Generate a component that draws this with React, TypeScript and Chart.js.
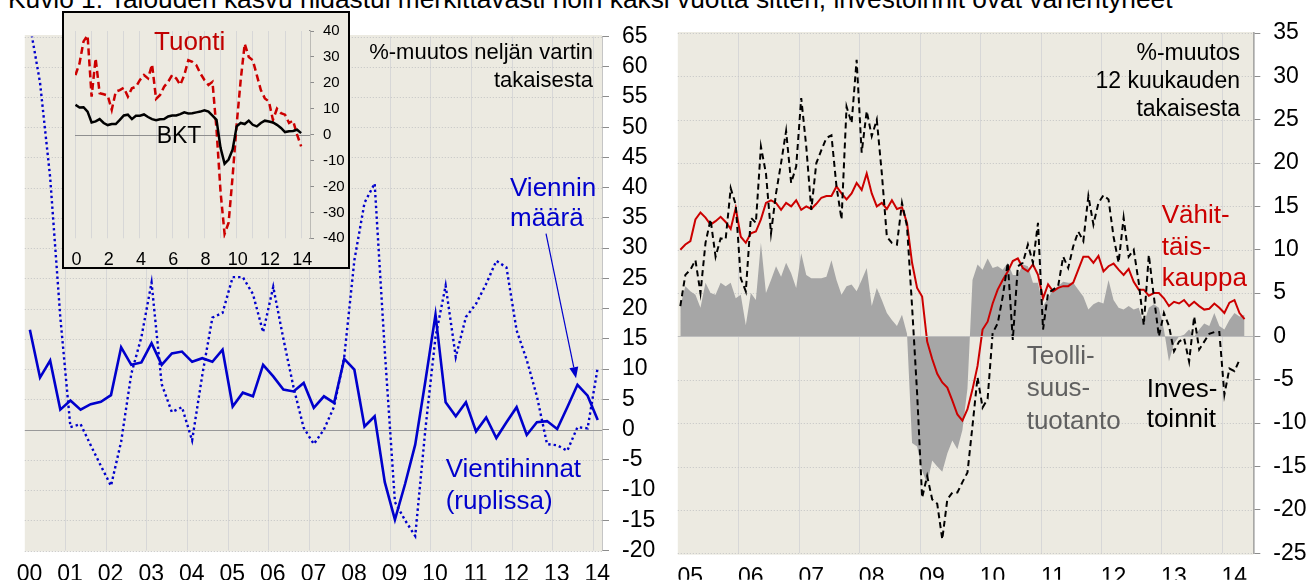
import React, { useEffect, useRef } from 'react';
import { Chart, registerables } from 'chart.js';

Chart.register(...registerables);

const FONT = '"Liberation Sans", Arial, Helvetica, sans-serif';
Chart.defaults.font.family = FONT;

// ---------- Left panel: quarterly, 2000Q1 .. 2014Q1 ----------
const leftYears = [2000, 2001, 2002, 2003, 2004, 2005, 2006, 2007, 2008, 2009, 2010, 2011, 2012, 2013, 2014];
const leftValueTicks = [-20, -15, -10, -5, 0, 5, 10, 15, 20, 25, 30, 35, 40, 45, 50, 55, 60, 65];
// Vientihinnat (ruplissa), % y/y
const exportPrices = [
  16.5, 8.6, 11.4, 3.3, 4.8, 3.3, 4.2, 4.6, 5.7, 13.6, 10.7, 11.1, 14.3, 10.7, 12.6, 12.9,
  11.2, 11.8, 11.2, 13.2, 3.8, 6.1, 5.5, 10.7, 8.8, 6.6, 6.3, 7.7, 3.6, 5.5, 4.4, 11.7,
  9.9, 0.5, 2.2, -8.7, -14.9, -9.0, -2.5, 8.0, 19.0, 4.5, 2.2, 4.5, -0.3, 2.0, -1.4, 1.2,
  3.7, -0.9, 1.2, 1.4, 0.1, 3.7, 7.4, 5.6, 1.6,
];
// Viennin määrä, % y/y
const exportVolume = [
  67, 57.4, 41.7, 18.6, 0.4, 0.9, -2.6, -6.0, -9.3, -2.0, 9.2, 15.3, 24.3, 7.5, 2.9, 3.7,
  -1.8, 9.0, 18.5, 19.3, 25.2, 25.2, 22.4, 16.1, 23.6, 15.0, 7.0, 0.3, -2.4, 0.0, 3.8, 12.0,
  28.0, 37.5, 40.7, 13.0, -12.0, -15.0, -17.6, 0.0, 15.3, 23.8, 12.0, 18.6, 20.8, 24.1, 27.9, 26.8,
  16.4, 11.5, 5.5, -2.4, -2.6, -3.5, 0.4, 0.2, 10.3,
];
// Inset: BKT and Tuonti, % y/y, years 0..14 (= 2000..2014)
const insetTicks = [0, 2, 4, 6, 8, 10, 12, 14];
const insetValueTicks = [-40, -30, -20, -10, 0, 10, 20, 30, 40];
const gdp = [
  11.5, 10.5, 10.6, 8.9, 4.7, 5.1, 6.0, 4.5, 3.7, 4.1, 4.1, 5.7, 7.4, 7.7, 6.0, 7.3,
  7.3, 7.8, 6.8, 6.0, 5.6, 5.9, 6.0, 7.0, 7.4, 7.4, 7.9, 8.6, 8.2, 8.3, 8.6, 8.9,
  9.4, 8.9, 7.3, 5.7, -5.1, -11.2, -9.6, -5.7, 3.2, 4.5, 4.1, 5.4, 3.8, 3.2, 4.5, 5.4,
  5.1, 4.7, 3.8, 2.6, 1.0, 1.3, 1.4, 1.9, 0.6,
];
const imports = [
  23, 27.5, 36, 38.3, 14.7, 29.4, 16, 15.6, 15.1, 9.6, 16.6, 17.2, 18.1, 14.7, 17.9, 18.5,
  21.1, 23, 21.7, 27.1, 13.8, 15.3, 18.5, 20.4, 23, 21.7, 19.2, 23, 28.7, 28.1, 26.8, 23.6,
  21.1, 19.2, 20.4, 2, -22, -38.3, -34, -16, 4, 21, 35.1, 30, 28.7, 23, 17.2, 14,
  12.8, 5.7, 10, 8.3, 7.7, 4.5, 5.4, 0, -4.5,
];

// ---------- Right panel: monthly, 2005-01 .. ----------
const rightYears = [2005, 2006, 2007, 2008, 2009, 2010, 2011, 2012, 2013, 2014];
const rightValueTicks = [-25, -20, -15, -10, -5, 0, 5, 10, 15, 20, 25, 30, 35];
// Vähittäiskauppa
const retail = [
  10.0, 10.6, 11.0, 13.5, 14.3, 13.7, 12.9, 13.3, 13.8, 13.2, 12.4, 14.8,
  11.5, 10.8, 11.9, 12.1, 13.5, 15.4, 15.7, 15.4, 14.6, 15.4, 15.0, 15.7,
  14.6, 15.0, 14.7, 15.3, 16.0, 16.2, 16.2, 17.3, 16.5, 15.8, 16.5, 17.7,
  16.9, 18.8, 16.5, 15.0, 15.4, 14.7, 15.7, 14.7, 14.9, 13.1, 8.5, 5.6,
  4.6, -0.6, -2.6, -4.3, -5.3, -5.9, -7.4, -9.0, -9.7, -8.4, -6.1, -3.4,
  0.8, 1.7, 3.8, 5.4, 6.5, 7.5, 8.7, 9.0, 7.9, 7.5, 8.3, 7.1,
  4.4, 6.0, 5.2, 5.6, 5.8, 5.8, 6.2, 7.7, 9.2, 9.2, 8.5, 9.3,
  7.5, 8.1, 8.4, 7.7, 7.1, 7.8, 6.3, 5.4, 5.4, 4.7, 5.0, 5.0,
  4.4, 3.5, 4.0, 3.8, 4.2, 3.5, 4.0, 3.5, 3.1, 3.2, 3.8, 3.3,
  2.7, 3.9, 4.2, 2.7, 2.0,
];
// Investoinnit
const investment = [
  3.5, 7.1, 7.7, 8.8, 5.0, 10.8, 13.5, 9.2, 11.3, 11.2, 17.1, 15.2,
  6.7, 5.2, 13.7, 13.1, 21.9, 18.8, 11.9, 16.5, 20.0, 23.7, 17.7, 19.6,
  27.5, 21.9, 14.6, 20.0, 21.5, 22.9, 23.2, 17.3, 13.5, 26.5, 24.6, 31.9,
  21.2, 26.0, 23.1, 25.0, 18.8, 11.5, 10.8, 10.6, 15.4, 12.7, 3.5, -6.5,
  -18.6, -16.1, -18.8, -19.3, -23.4, -18.8, -18.0, -18.0, -16.8, -15.7, -10.3, -4.7,
  -8.2, -7.2, 0.4, 1.5, 4.6, 8.5, -0.4, 8.1, 8.5, 10.6, 8.5, 13.1,
  0.8, 5.0, 5.4, 5.8, 9.2, 7.9, 10.4, 12.1, 11.0, 16.2, 12.9, 15.4,
  16.3, 15.8, 11.5, 8.5, 13.7, 9.2, 10.0, 6.2, 1.3, 9.4, 4.6, 0.0,
  2.7, 1.2, -1.7, -0.6, -0.2, -2.9, 2.3, -1.5, -0.6, 0.3, 0.5, 0.5,
  -6.7, -3.7, -4.0, -2.7,
];
// Teollisuustuotanto
const industry = [
  3.5, 5.8, 5.2, 4.8, 3.3, 6.2, 5.0, 4.8, 6.2, 5.8, 6.2, 4.4,
  4.8, 1.3, 5.0, 4.2, 10.8, 5.0, 6.5, 8.1, 6.9, 8.5, 7.3, 5.6,
  9.6, 7.1, 6.7, 6.7, 6.7, 6.9, 8.8, 6.5, 4.8, 5.8, 6.0, 5.2,
  6.5, 7.9, 3.5, 5.6, 4.2, 2.7, 1.9, 1.2, 2.5, 0.3, -12.3, -12.7,
  -15.5, -17.0, -14.3, -15.0, -15.6, -13.5, -12.0, -13.0, -10.8, -6.0, 6.5, 8.3,
  7.7, 9.0, 7.9, 8.1, 7.7, 8.5, 7.1, 7.1, 8.3, 8.1, 6.2, 6.2,
  3.5, 4.4, 5.4, 5.8, 6.3, 6.2, 6.2, 5.4, 4.6, 3.1, 3.7, 4.0,
  3.8, 6.5, 4.2, 3.3, 3.1, 3.5, 3.1, 3.3, 1.5, 3.3, 3.7, 3.3,
  0.8, -2.9, -0.8, 0.0, 0.2, 0.8, 0.0, 0.8, 1.5, 1.2, 2.7, 1.2,
  0.8, 1.9, 2.7, 2.3, 2.5,
];

// ---------- styles ----------
const BG = '#ECEAE1';
const BLUE = '#0000CC';
const RED = '#CC0000';
const AXIS = '#8C8C8C';

const quarterX = (i: number) => 2000.125 + 0.25 * i;
const insetX = (i: number) => 0.03 + 0.25 * i;
const monthX = (i: number) => 2005 + (i + 0.5) / 12;
const yy = (v: any) => {
  const n = Math.round(Number(v)) % 100;
  return n < 10 ? '0' + n : String(n);
};

const panelPlugin = {
  id: 'panel',
  beforeDatasetsDraw(chart: any, _a: any, o: any) {
    const { ctx, chartArea: a, scales } = chart;
    const xs = scales.x;
    const ys = scales.y;
    ctx.save();
    ctx.fillStyle = o.bg;
    ctx.fillRect(a.left, a.top - o.bgTop, a.right - a.left, a.bottom - a.top + o.bgTop + o.bgBottom);
    ctx.lineWidth = 1;
    ctx.strokeStyle = o.vGrid;
    for (let v = Math.ceil(xs.min + o.skipFirst); v <= xs.max + 1e-9; v += 1) {
      const px = Math.round(xs.getPixelForValue(v)) + 0.5;
      ctx.beginPath();
      ctx.moveTo(px, a.top);
      ctx.lineTo(px, a.bottom);
      ctx.stroke();
    }
    if (o.hGrid) {
      ctx.strokeStyle = o.hGrid;
      ctx.setLineDash([1, 2]);
      ys.ticks.forEach((t: any) => {
        if (t.value === 0) return;
        const py = Math.round(ys.getPixelForValue(t.value)) + 0.5;
        ctx.beginPath();
        ctx.moveTo(a.left, py);
        ctx.lineTo(a.right, py);
        ctx.stroke();
      });
      ctx.setLineDash([]);
    }
    if (!o.zeroOnTop) {
      const pz = Math.round(ys.getPixelForValue(0)) + 0.5;
      ctx.strokeStyle = o.zero;
      ctx.beginPath();
      ctx.moveTo(a.left, pz);
      ctx.lineTo(a.right, pz);
      ctx.stroke();
    }
    ctx.restore();
  },
  afterDatasetsDraw(chart: any, _a: any, o: any) {
    const { ctx, chartArea: a, scales } = chart;
    const xs = scales.x;
    const ys = scales.y;
    ctx.save();
    if (o.zeroOnTop) {
      const pz = Math.round(ys.getPixelForValue(0)) + 0.5;
      ctx.strokeStyle = o.zero;
      ctx.lineWidth = 1;
      ctx.beginPath();
      ctx.moveTo(a.left, pz);
      ctx.lineTo(a.right, pz);
      ctx.stroke();
    }
    if (o.arrow) {
      const [x1, y1, x2, y2] = o.arrow;
      const X1 = xs.getPixelForValue(x1), Y1 = ys.getPixelForValue(y1);
      const X2 = xs.getPixelForValue(x2), Y2 = ys.getPixelForValue(y2);
      const ang = Math.atan2(Y2 - Y1, X2 - X1);
      const L = 11, W = 4.5;
      const bx = X2 - L * Math.cos(ang), by = Y2 - L * Math.sin(ang);
      ctx.strokeStyle = o.arrowColor;
      ctx.fillStyle = o.arrowColor;
      ctx.lineWidth = 1.2;
      ctx.beginPath();
      ctx.moveTo(X1, Y1);
      ctx.lineTo(bx, by);
      ctx.stroke();
      ctx.beginPath();
      ctx.moveTo(X2, Y2);
      ctx.lineTo(bx + W * Math.sin(ang), by - W * Math.cos(ang));
      ctx.lineTo(bx - W * Math.sin(ang), by + W * Math.cos(ang));
      ctx.closePath();
      ctx.fill();
    }
    ctx.restore();
  },
};

function xAxis(min: number, max: number, ticks: number[], height: number, size: number, pad: number, offset: number, fmt: (v: any) => string) {
  return {
    type: 'linear',
    min,
    max,
    afterBuildTicks: (s: any) => {
      s.ticks = ticks.map((v) => ({ value: v }));
    },
    afterFit: (s: any) => {
      s.height = height;
    },
    grid: { display: false },
    border: { display: false },
    ticks: {
      font: { size },
      color: '#000',
      padding: pad,
      labelOffset: offset,
      maxRotation: 0,
      minRotation: 0,
      autoSkip: false,
      callback: fmt,
    },
  };
}

function yAxis(min: number, max: number, ticks: number[], width: number, size: number, tickLen: number, pad: number) {
  return {
    type: 'linear',
    position: 'right',
    min,
    max,
    afterBuildTicks: (s: any) => {
      s.ticks = ticks.map((v) => ({ value: v }));
    },
    afterFit: (s: any) => {
      s.width = width;
    },
    grid: { display: true, drawOnChartArea: false, drawTicks: true, tickLength: tickLen, color: AXIS, lineWidth: 1 },
    border: { display: true, color: AXIS, width: 1.5 },
    ticks: { autoSkip: false, font: { size }, color: '#000', padding: pad, callback: (v: any) => String(v) },
  };
}

function useChart(ref: any, build: () => any) {
  useEffect(() => {
    const chart = new Chart(ref.current, build());
    return () => chart.destroy();
  }, []);
}

const baseOptions = {
  responsive: false,
  animation: false,
  devicePixelRatio: 1,
  events: [],
};

export default function App() {
  const leftRef = useRef<HTMLCanvasElement>(null);
  const insetRef = useRef<HTMLCanvasElement>(null);
  const rightRef = useRef<HTMLCanvasElement>(null);

  useChart(leftRef, () => ({
    type: 'line',
    data: {
      datasets: [
        {
          label: 'Vientihinnat (ruplissa)',
          data: exportPrices.map((v, i) => ({ x: quarterX(i), y: v })),
          borderColor: BLUE,
          borderWidth: 2.6,
          pointRadius: 0,
          fill: false,
        },
        {
          label: 'Viennin määrä',
          data: exportVolume.map((v, i) => ({ x: quarterX(i), y: v })),
          borderColor: BLUE,
          borderWidth: 2.4,
          borderDash: [2.4, 3],
          pointRadius: 0,
          fill: false,
        },
      ],
    },
    options: {
      ...baseOptions,
      layout: { padding: { left: 24.8, top: 36.5, right: 0, bottom: 0 } },
      plugins: {
        legend: { display: false },
        tooltip: { enabled: false },
        panel: {
          bg: BG, bgTop: 1.5, bgBottom: 1, vGrid: '#D7D7D7', hGrid: '#C4C4C4', zero: '#999999',
          zeroOnTop: false, skipFirst: 0.5,
          arrow: [2012.85, 32.4, 2013.59, 8.5], arrowColor: BLUE,
        },
      },
      scales: {
        x: xAxis(2000, 2014.23, leftYears, 29.5, 23, 2.5, 4.7, yy),
        y: yAxis(-20, 65, leftValueTicks, 58, 23, 7, 13),
      },
    },
    plugins: [panelPlugin],
  }));

  useChart(insetRef, () => ({
    type: 'line',
    data: {
      datasets: [
        {
          label: 'BKT',
          data: gdp.map((v, i) => ({ x: insetX(i), y: v })),
          borderColor: '#000',
          borderWidth: 2.5,
          pointRadius: 0,
          fill: false,
        },
        {
          label: 'Tuonti',
          data: imports.map((v, i) => ({ x: insetX(i), y: v })),
          borderColor: RED,
          borderWidth: 2.5,
          borderDash: [7, 4],
          pointRadius: 0,
          fill: false,
        },
      ],
    },
    options: {
      ...baseOptions,
      layout: { padding: { left: 11, top: 17, right: 0, bottom: 0 } },
      plugins: {
        legend: { display: false },
        tooltip: { enabled: false },
        panel: { bg: BG, bgTop: 0, bgBottom: 0, vGrid: '#D7D7D7', hGrid: null, zero: '#8F8F8F', zeroOnTop: false, skipFirst: 0, arrow: null },
      },
      scales: {
        x: xAxis(0, 14.58, insetTicks, 28.7, 18, 3, 1.5, (v: any) => String(v)),
        y: yAxis(-40, 40, insetValueTicks, 38, 15, 4, 9),
      },
    },
    plugins: [panelPlugin],
  }));

  useChart(rightRef, () => ({
    type: 'line',
    data: {
      datasets: [
        {
          label: 'Investoinnit',
          data: investment.map((v, i) => ({ x: monthX(i), y: v })),
          borderColor: '#000',
          borderWidth: 2,
          borderDash: [6, 4],
          pointRadius: 0,
          fill: false,
        },
        {
          label: 'Vähittäiskauppa',
          data: retail.map((v, i) => ({ x: monthX(i), y: v })),
          borderColor: RED,
          borderWidth: 2,
          pointRadius: 0,
          fill: false,
        },
        {
          label: 'Teollisuustuotanto',
          data: industry.map((v, i) => ({ x: monthX(i), y: v })),
          borderColor: 'rgba(0,0,0,0)',
          borderWidth: 0,
          backgroundColor: '#A6A6A6',
          pointRadius: 0,
          fill: 'origin',
        },
      ],
    },
    options: {
      ...baseOptions,
      layout: { padding: { left: 17.8, top: 33, right: 0, bottom: 0 } },
      plugins: {
        legend: { display: false },
        tooltip: { enabled: false },
        panel: { bg: BG, bgTop: 1, bgBottom: 1.5, vGrid: '#D7D7D7', hGrid: '#C4C4C4', zero: '#BDBDBD', zeroOnTop: true, skipFirst: 0.5, arrow: null },
      },
      scales: {
        x: xAxis(2005, 2014.52, rightYears, 26.5, 23, 2.8, 12.5, yy),
        y: yAxis(-25, 35, rightValueTicks, 55.7, 23, 7, 13),
      },
    },
    plugins: [panelPlugin],
  }));

  const txt = (style: any) => ({ position: 'absolute' as const, whiteSpace: 'nowrap' as const, margin: 0, ...style });

  return (
    <div style={{ position: 'fixed', left: 0, top: 0, width: 1309, height: 580, overflow: 'hidden', background: '#fff', fontFamily: FONT }}>
      <div style={txt({ left: 8, top: -14, fontSize: 26.3, lineHeight: '26px', color: '#000' })}>
        Kuvio 1. Talouden kasvu hidastui merkittävästi noin kaksi vuotta sitten, investoinnit ovat vähentyneet
      </div>
      <canvas ref={leftRef} width={660} height={580} style={{ position: 'absolute', left: 0, top: 0, display: 'block' }} />
      <canvas ref={rightRef} width={649} height={580} style={{ position: 'absolute', left: 660, top: 0, display: 'block' }} />
      <div style={{ position: 'absolute', left: 62, top: 11, width: 288, height: 258, boxSizing: 'border-box', border: '2px solid #000', background: BG }}>
        <canvas ref={insetRef} width={284} height={254} style={{ position: 'absolute', left: 0, top: 0, display: 'block' }} />
      </div>

      <div style={txt({ right: 716, top: 37.7, fontSize: 22, lineHeight: '28px', textAlign: 'right', color: '#000' })}>
        %-muutos neljän vartin<br />takaisesta
      </div>
      <div style={txt({ left: 510, top: 171.7, fontSize: 26, lineHeight: '30px', color: BLUE })}>
        Viennin<br />määrä
      </div>
      <div style={txt({ left: 445.7, top: 452, fontSize: 26, lineHeight: '32px', color: BLUE })}>
        Vientihinnat<br />(ruplissa)
      </div>
      <div style={txt({ left: 154, top: 25.7, fontSize: 26, lineHeight: '30px', color: '#C00000' })}>Tuonti</div>
      <div style={txt({ left: 156.7, top: 122, fontSize: 23, lineHeight: '26px', color: '#000' })}>BKT</div>

      <div style={txt({ right: 69, top: 37.5, fontSize: 23, lineHeight: '28.3px', textAlign: 'right', color: '#000' })}>
        %-muutos<br />12 kuukauden<br />takaisesta
      </div>
      <div style={txt({ left: 1161.7, top: 199.3, fontSize: 26, lineHeight: '31.5px', color: RED })}>
        Vähit-<br />täis-<br />kauppa
      </div>
      <div style={txt({ left: 1026.7, top: 338.7, fontSize: 26, lineHeight: '32.5px', color: '#606060' })}>
        Teolli-<br />suus-<br />tuotanto
      </div>
      <div style={txt({ left: 1146.7, top: 373, fontSize: 26, lineHeight: '30px', color: '#000' })}>
        Inves-<br />toinnit
      </div>
    </div>
  );
}
